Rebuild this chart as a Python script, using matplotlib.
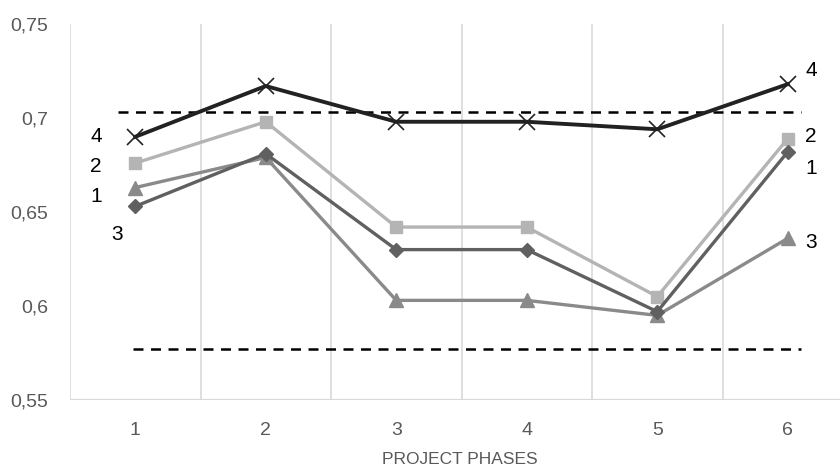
import numpy as np
import matplotlib
matplotlib.use('Agg')
import matplotlib.pyplot as plt
from matplotlib.ticker import FuncFormatter

plt.rcParams['font.family'] = ['Liberation Sans', 'DejaVu Sans']

# данные
phases = [1, 2, 3, 4, 5, 6]
series_1 = [0.653, 0.681, 0.630, 0.630, 0.597, 0.682]
series_2 = [0.676, 0.698, 0.642, 0.642, 0.605, 0.689]
series_3 = [0.663, 0.679, 0.603, 0.603, 0.595, 0.636]
series_4 = [0.690, 0.717, 0.698, 0.698, 0.694, 0.718]
upper_limit = 0.703
lower_limit = 0.577
y_ticks = [0.55, 0.6, 0.65, 0.7, 0.75]

fig = plt.figure(figsize=(8.4, 4.72), dpi=100)
ax = fig.add_axes([70 / 840, 1 - 400 / 472, 783 / 840, 376 / 472])

grid_c = '#d9d9d9'
for xg in np.arange(0.5, 6, 1.0):
    ax.axvline(xg, color=grid_c, lw=1.2, zorder=0)
ax.axhline(0.55, color=grid_c, lw=1.6, zorder=1)

# пунктирные границы
ax.plot([0.87, 6.1], [upper_limit] * 2, color='black', lw=1.8, ls=(0, (4, 3)), zorder=2)
ax.plot([0.985, 6.1], [lower_limit] * 2, color='black', lw=1.8, ls=(0, (4, 3)), zorder=2)

ax.plot(phases, series_3, color='#8a8a8a', lw=2.4, marker='^', ms=10, zorder=3)
ax.plot(phases, series_1, color='#606060', lw=2.4, marker='D', ms=7, zorder=4)
ax.plot(phases, series_2, color='#b4b4b4', lw=2.4, marker='s', ms=9, zorder=3.5)
ax.plot(phases, series_4, color='#222222', lw=2.8, marker='x', ms=11, mew=1.2, zorder=5)

lab = dict(fontsize=15, color='black', ha='center', va='center')
ax.text(0.70, 0.690, '4', **lab)
ax.text(0.70, 0.674, '2', **lab)
ax.text(0.70, 0.658, '1', **lab)
ax.text(0.86, 0.638, '3', **lab)
ax.text(6.18, 0.7255, '4', **lab)
ax.text(6.18, 0.690, '2', **lab)
ax.text(6.18, 0.6734, '1', **lab)
ax.text(6.18, 0.634, '3', **lab)

ax.set_xlim(0.5, 6.5)
ax.set_ylim(0.55, 0.75)
ax.set_xticks(phases)
ax.set_yticks(y_ticks)
ax.yaxis.set_major_formatter(FuncFormatter(lambda v, p: ('%g' % v).replace('.', ',')))
ax.tick_params(length=0, labelsize=14, colors='#595959')
ax.tick_params(axis='y', pad=16)
ax.tick_params(axis='x', pad=16)
for s in ax.spines.values():
    s.set_visible(False)

fig.text(460 / 840, 1 - 460 / 472, 'PROJECT PHASES', ha='center', va='center',
         fontsize=12.5, color='#595959')

fig.savefig('out.png', dpi=100)
